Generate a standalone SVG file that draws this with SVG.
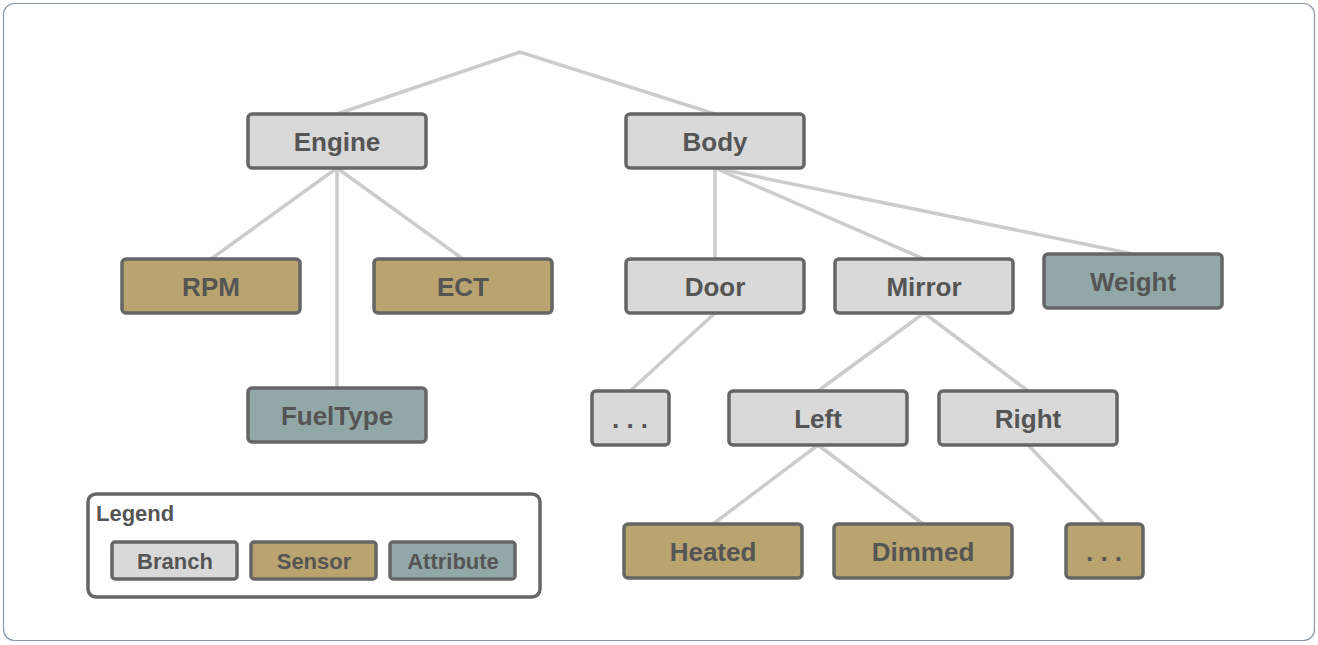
<svg xmlns="http://www.w3.org/2000/svg" width="1318" height="645" viewBox="0 0 1318 645">
<style>
.n rect{stroke:#666;stroke-width:3.5}
.b{fill:#d9d9d9}.s{fill:#b9a36f}.a{fill:#92a8a8}
.n text{font-family:"Liberation Sans",Arial,sans-serif;font-weight:bold;font-size:26px;fill:#555;text-anchor:middle}
.lg text{font-size:22px}
#connectors line,#connectors polyline{stroke:#ccc;stroke-width:3.5;fill:none}
</style>
<rect x="3.5" y="3.5" width="1311" height="637" rx="11" fill="#fff" stroke="#8a9aa8" stroke-width="1.2"/>
<g id="connectors">
<polyline points="337,114 520,52 715,114"/>
<line x1="337" y1="168" x2="211" y2="259"/>
<line x1="337" y1="168" x2="337" y2="388"/>
<line x1="337" y1="168" x2="463" y2="259"/>
<line x1="715" y1="168" x2="715" y2="259"/>
<line x1="715" y1="168" x2="924" y2="259"/>
<line x1="715" y1="168" x2="1133" y2="254"/>
<line x1="715" y1="313" x2="630" y2="391"/>
<line x1="924" y1="313" x2="818" y2="391"/>
<line x1="924" y1="313" x2="1028" y2="391"/>
<line x1="818" y1="445" x2="713" y2="524"/>
<line x1="818" y1="445" x2="923" y2="524"/>
<line x1="1028" y1="445" x2="1104" y2="524"/>
</g>
<g id="engine" class="n"><rect class="b" x="248" y="114" width="178" height="54" rx="4"/><text x="337" y="151">Engine</text></g>
<g id="body" class="n"><rect class="b" x="626" y="114" width="178" height="54" rx="4"/><text x="715" y="151">Body</text></g>
<g id="rpm" class="n"><rect class="s" x="122" y="259" width="178" height="54" rx="4"/><text x="211" y="296">RPM</text></g>
<g id="ect" class="n"><rect class="s" x="374" y="259" width="178" height="54" rx="4"/><text x="463" y="296">ECT</text></g>
<g id="fueltype" class="n"><rect class="a" x="248" y="388" width="178" height="54" rx="4"/><text x="337" y="425">FuelType</text></g>
<g id="door" class="n"><rect class="b" x="626" y="259" width="178" height="54" rx="4"/><text x="715" y="296">Door</text></g>
<g id="mirror" class="n"><rect class="b" x="835" y="259" width="178" height="54" rx="4"/><text x="924" y="296">Mirror</text></g>
<g id="weight" class="n"><rect class="a" x="1044" y="254" width="178" height="54" rx="4"/><text x="1133" y="291">Weight</text></g>
<g id="door-more" class="n"><rect class="b" x="592" y="391" width="77" height="54" rx="4"/><text x="630" y="428">. . .</text></g>
<g id="left" class="n"><rect class="b" x="729" y="391" width="178" height="54" rx="4"/><text x="818" y="428">Left</text></g>
<g id="right" class="n"><rect class="b" x="939" y="391" width="178" height="54" rx="4"/><text x="1028" y="428">Right</text></g>
<g id="heated" class="n"><rect class="s" x="624" y="524" width="178" height="54" rx="4"/><text x="713" y="561">Heated</text></g>
<g id="dimmed" class="n"><rect class="s" x="834" y="524" width="178" height="54" rx="4"/><text x="923" y="561">Dimmed</text></g>
<g id="right-more" class="n"><rect class="s" x="1066" y="524" width="77" height="54" rx="4"/><text x="1104" y="561">. . .</text></g>
<g id="legend" class="n lg">
<rect x="88" y="494" width="452" height="103" rx="8" fill="#fff"/>
<text x="96" y="521" style="text-anchor:start">Legend</text>
<rect class="b" x="112" y="542" width="125" height="37" rx="3"/><text x="175" y="569">Branch</text>
<rect class="s" x="251" y="542" width="125" height="37" rx="3"/><text x="314" y="569">Sensor</text>
<rect class="a" x="390" y="542" width="125" height="37" rx="3"/><text x="453" y="569">Attribute</text>
</g>
</svg>
